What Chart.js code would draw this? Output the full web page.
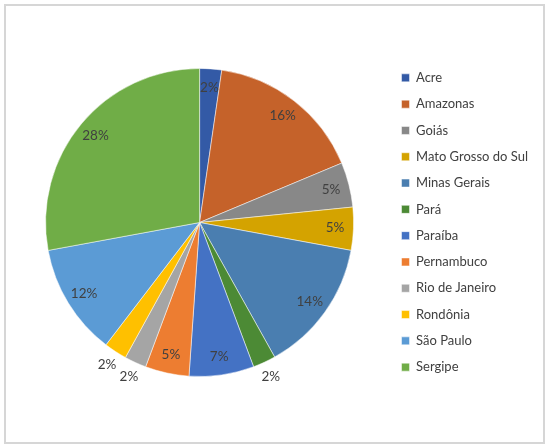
<!DOCTYPE html>
<html>
<head>
<meta charset="utf-8">
<script src="https://cdn.jsdelivr.net/npm/chart.js@4/dist/chart.umd.min.js"></script>
<style>
  html, body { margin: 0; padding: 0; background: #fff; }
  #wrap { position: relative; width: 550px; height: 448px; }
  #frame {
    position: absolute; left: 4px; top: 4px; width: 537px; height: 436px;
    border: 2px solid #d6d6d6;
  }
  #chart { position: absolute; left: 0; top: 0; }
</style>
</head>
<body>
<div id="wrap">
  <div id="frame"></div>
  <canvas id="chart" width="550" height="448"></canvas>
</div>
<script>
// estados e participação (%)
const states = ['Acre', 'Amazonas', 'Goiás', 'Mato Grosso do Sul', 'Minas Gerais', 'Pará',
  'Paraíba', 'Pernambuco', 'Rio de Janeiro', 'Rondônia', 'São Paulo', 'Sergipe'];
const shares = [2.3, 16.4, 4.7, 4.5, 14.0, 2.4, 6.8, 4.6, 2.3, 2.4, 11.7, 27.9];
const sliceColors = ['#335aa6', '#c5622a', '#888888', '#d4a300', '#4a7eb0', '#4c8a35',
  '#4472c4', '#ed7d31', '#a5a5a5', '#ffc000', '#5b9bd5', '#70ad47'];

const textColor = '#404040';
const fontFamily = 'Lato, "Liberation Sans", sans-serif';

// percent labels: inside the slice, small ones pushed outside (except Acre)
const pctLabels = {
  id: 'pctLabels',
  afterDatasetsDraw(chart) {
    const ctx = chart.ctx;
    const data = chart.data.datasets[0].data;
    const total = data.reduce((a, b) => a + b, 0);
    ctx.save();
    ctx.font = '13.5px ' + fontFamily;
    ctx.fillStyle = textColor;
    ctx.textAlign = 'center';
    ctx.textBaseline = 'middle';
    chart.getDatasetMeta(0).data.forEach((arc, i) => {
      const p = arc.getProps(['x', 'y', 'startAngle', 'endAngle', 'outerRadius'], true);
      const mid = (p.startAngle + p.endAngle) / 2;
      const pct = data[i] / total * 100;
      const r = (pct < 3 && i > 0) ? p.outerRadius * 1.1 : p.outerRadius * 0.88;
      ctx.fillText(Math.round(pct) + '%', p.x + Math.cos(mid) * r, p.y + Math.sin(mid) * r);
    });
    ctx.restore();
  }
};

new Chart(document.getElementById('chart'), {
  type: 'pie',
  data: {
    labels: states,
    datasets: [{
      data: shares,
      backgroundColor: sliceColors,
      borderColor: '#ffffff',
      borderWidth: 0.5,
      radius: 154
    }]
  },
  options: {
    responsive: false,
    animation: false,
    layout: { padding: { left: 11, right: 12, top: 0, bottom: 3 } },
    plugins: {
      legend: {
        position: 'right',
        labels: {
          boxWidth: 8,
          boxHeight: 8,
          padding: 13.3,
          color: textColor,
          font: { size: 13, family: fontFamily }
        }
      },
      tooltip: { enabled: false }
    }
  },
  plugins: [pctLabels]
});
</script>
</body>
</html>
